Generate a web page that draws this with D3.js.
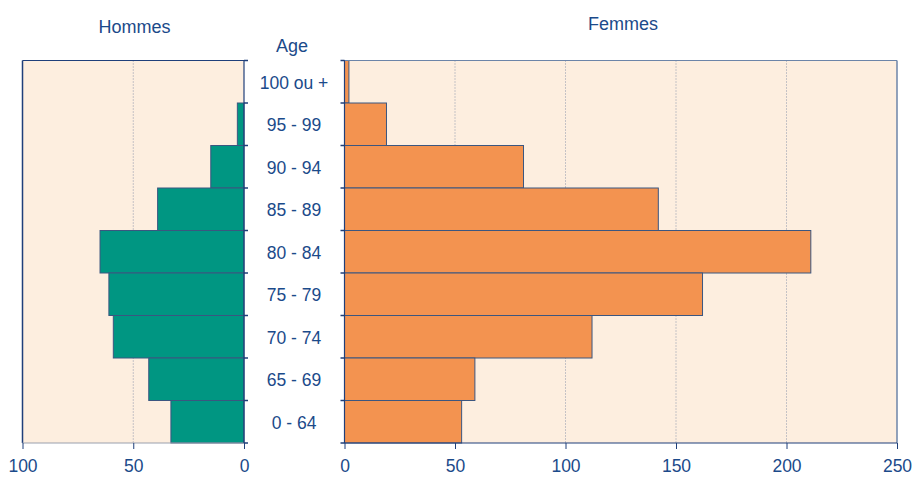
<!DOCTYPE html>
<html>
<head>
<meta charset="utf-8">
<script src="https://cdn.jsdelivr.net/npm/d3@7"></script>
<style>
  body { margin: 0; background: #fff; }
  svg { display: block; font-family: "Liberation Sans", Arial, sans-serif; }
  .lbl { fill: #1b4a8a; }
</style>
</head>
<body>
<svg width="914" height="477"></svg>
<script>
// data
var ages = ["100 ou +", "95 - 99", "90 - 94", "85 - 89", "80 - 84", "75 - 79", "70 - 74", "65 - 69", "0 - 64"];
var hommes = [0, 3, 15, 39, 65, 61, 59, 43, 33];
var femmes = [2, 19, 81, 142, 211, 162, 112, 59, 53];
var ticksH = [100, 50, 0];
var ticksF = [0, 50, 100, 150, 200, 250];

var svg = d3.select("svg"),
    top0 = 60.5, bottom0 = 443,
    blue = "#1b4a8a",
    axisBlue = "#1f3f7a",
    bg = "#fdeedf";

var y = d3.scaleBand().domain(ages).range([top0, bottom0]).padding(0);
var xH = d3.scaleLinear().domain([100, 0]).range([22.5, 244]);
var xF = d3.scaleLinear().domain([0, 250]).range([344.5, 897]);

function panel(x, ticks, vals, color, side) {
    var g = svg.append("g");
    var x0 = x.range()[0], x1 = x.range()[1];

    g.append("rect")
        .attr("x", x0).attr("y", top0)
        .attr("width", x1 - x0).attr("height", bottom0 - top0)
        .attr("fill", bg);

    // dotted grid
    g.selectAll(".grid")
        .data(ticks.filter(function(t) { return t != 0 && x(t) != x0 && x(t) != x1; }))
        .enter().append("line")
        .attr("x1", function(d) { return x(d); })
        .attr("x2", function(d) { return x(d); })
        .attr("y1", top0).attr("y2", bottom0)
        .attr("stroke", "#8c96ab")
        .attr("stroke-dasharray", "1,2");

    // bars
    g.selectAll(".bar")
        .data(vals)
        .enter().append("rect")
        .attr("x", function(d) { return Math.min(x(0), x(d)); })
        .attr("y", function(d, i) { return y(ages[i]); })
        .attr("width", function(d) { return Math.abs(x(d) - x(0)); })
        .attr("height", y.bandwidth())
        .attr("fill", color)
        .attr("stroke", function(d) { return d > 0 ? "#3b5680" : "none"; })
        .attr("stroke-width", 1);

    // frame
    var zx = x(0), fx = side == "left" ? x0 : x1;
    g.append("line").attr("x1", x0).attr("x2", x1).attr("y1", top0).attr("y2", top0)
        .attr("stroke", side == "left" ? axisBlue : "#6c84a8");
    g.append("line").attr("x1", fx).attr("x2", fx).attr("y1", top0).attr("y2", bottom0)
        .attr("stroke", side == "left" ? axisBlue : "#6c84a8").attr("stroke-width", 1.5);
    g.append("line").attr("x1", x0).attr("x2", x1).attr("y1", bottom0).attr("y2", bottom0)
        .attr("stroke", side == "left" ? "#9aa0ad" : axisBlue);
    g.append("line").attr("x1", zx).attr("x2", zx).attr("y1", top0).attr("y2", bottom0)
        .attr("stroke", axisBlue).attr("stroke-width", 1.2);

    // band ticks
    var bounds = ages.map(function(a) { return y(a); }).concat([bottom0]);
    g.selectAll(".btick")
        .data(bounds)
        .enter().append("line")
        .attr("x1", zx)
        .attr("x2", side == "left" ? zx + 4 : zx - 4)
        .attr("y1", function(d) { return d; })
        .attr("y2", function(d) { return d; })
        .attr("stroke", axisBlue).attr("stroke-width", 1.5);

    // bottom axis
    var ax = svg.append("g")
        .attr("transform", "translate(0," + bottom0 + ")")
        .call(d3.axisBottom(x).tickValues(ticks).tickSize(6).tickPadding(11).tickFormat(d3.format("d")));
    ax.select(".domain").remove();
    ax.selectAll(".tick line").attr("stroke", axisBlue);
    ax.selectAll(".tick text")
        .attr("fill", blue)
        .attr("font-size", 17.5)
        .attr("font-family", "'Liberation Sans', Arial, sans-serif");
}

panel(xH, ticksH, hommes, "#009682", "left");
panel(xF, ticksF, femmes, "#f39350", "right");

// age labels
svg.selectAll(".age")
    .data(ages)
    .enter().append("text")
    .attr("class", "lbl")
    .attr("x", 294)
    .attr("y", function(d) { return y(d) + y.bandwidth() / 2 + 7; })
    .attr("text-anchor", "middle")
    .attr("font-size", 17.5)
    .text(function(d) { return d; });

svg.append("text").attr("class", "lbl").attr("x", 134.5).attr("y", 33)
    .attr("text-anchor", "middle").attr("font-size", 18).text("Hommes");
svg.append("text").attr("class", "lbl").attr("x", 292).attr("y", 52)
    .attr("text-anchor", "middle").attr("font-size", 18).text("Age");
svg.append("text").attr("class", "lbl").attr("x", 623).attr("y", 30)
    .attr("text-anchor", "middle").attr("font-size", 18).text("Femmes");
</script>
</body>
</html>
